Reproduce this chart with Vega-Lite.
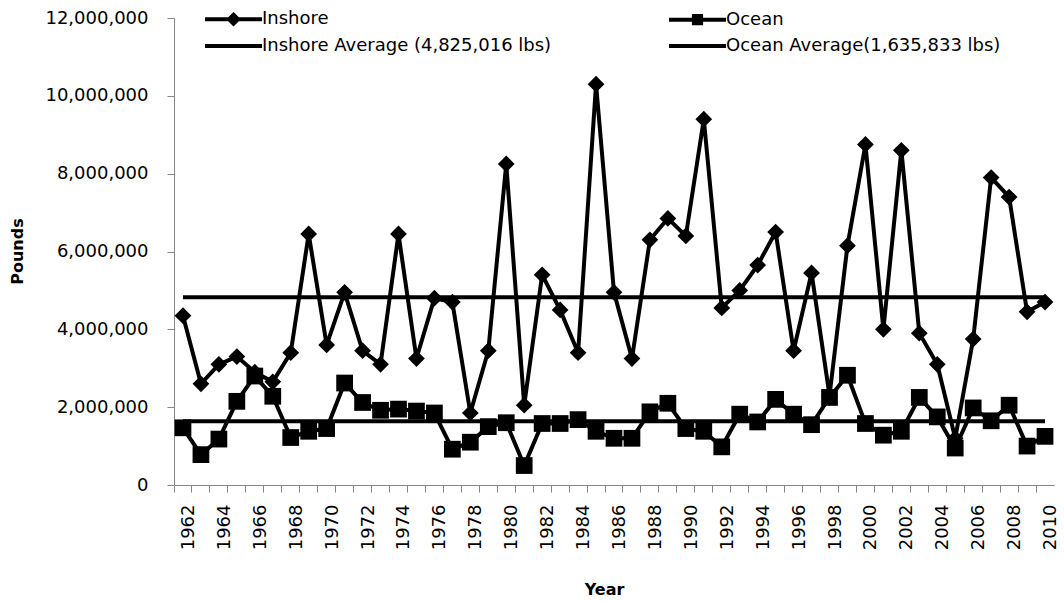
{
  "$schema": "https://vega.github.io/schema/vega-lite/v6.json",
  "autosize": "none",
  "width": 880,
  "height": 467,
  "padding": {"left": 174, "top": 18, "right": 10, "bottom": 116},
  "background": "white",
  "config": {"view": {"stroke": null}},
  "datasets": {
    "catch": [
      {"year": 1962, "series": "Inshore", "pounds": 4350000},
      {"year": 1963, "series": "Inshore", "pounds": 2600000},
      {"year": 1964, "series": "Inshore", "pounds": 3100000},
      {"year": 1965, "series": "Inshore", "pounds": 3300000},
      {"year": 1966, "series": "Inshore", "pounds": 2900000},
      {"year": 1967, "series": "Inshore", "pounds": 2650000},
      {"year": 1968, "series": "Inshore", "pounds": 3400000},
      {"year": 1969, "series": "Inshore", "pounds": 6450000},
      {"year": 1970, "series": "Inshore", "pounds": 3600000},
      {"year": 1971, "series": "Inshore", "pounds": 4950000},
      {"year": 1972, "series": "Inshore", "pounds": 3450000},
      {"year": 1973, "series": "Inshore", "pounds": 3100000},
      {"year": 1974, "series": "Inshore", "pounds": 6450000},
      {"year": 1975, "series": "Inshore", "pounds": 3250000},
      {"year": 1976, "series": "Inshore", "pounds": 4800000},
      {"year": 1977, "series": "Inshore", "pounds": 4700000},
      {"year": 1978, "series": "Inshore", "pounds": 1850000},
      {"year": 1979, "series": "Inshore", "pounds": 3450000},
      {"year": 1980, "series": "Inshore", "pounds": 8250000},
      {"year": 1981, "series": "Inshore", "pounds": 2050000},
      {"year": 1982, "series": "Inshore", "pounds": 5400000},
      {"year": 1983, "series": "Inshore", "pounds": 4500000},
      {"year": 1984, "series": "Inshore", "pounds": 3400000},
      {"year": 1985, "series": "Inshore", "pounds": 10300000},
      {"year": 1986, "series": "Inshore", "pounds": 4950000},
      {"year": 1987, "series": "Inshore", "pounds": 3250000},
      {"year": 1988, "series": "Inshore", "pounds": 6300000},
      {"year": 1989, "series": "Inshore", "pounds": 6850000},
      {"year": 1990, "series": "Inshore", "pounds": 6400000},
      {"year": 1991, "series": "Inshore", "pounds": 9400000},
      {"year": 1992, "series": "Inshore", "pounds": 4550000},
      {"year": 1993, "series": "Inshore", "pounds": 5000000},
      {"year": 1994, "series": "Inshore", "pounds": 5650000},
      {"year": 1995, "series": "Inshore", "pounds": 6500000},
      {"year": 1996, "series": "Inshore", "pounds": 3450000},
      {"year": 1997, "series": "Inshore", "pounds": 5450000},
      {"year": 1998, "series": "Inshore", "pounds": 2300000},
      {"year": 1999, "series": "Inshore", "pounds": 6150000},
      {"year": 2000, "series": "Inshore", "pounds": 8750000},
      {"year": 2001, "series": "Inshore", "pounds": 4000000},
      {"year": 2002, "series": "Inshore", "pounds": 8600000},
      {"year": 2003, "series": "Inshore", "pounds": 3900000},
      {"year": 2004, "series": "Inshore", "pounds": 3100000},
      {"year": 2005, "series": "Inshore", "pounds": 1200000},
      {"year": 2006, "series": "Inshore", "pounds": 3750000},
      {"year": 2007, "series": "Inshore", "pounds": 7900000},
      {"year": 2008, "series": "Inshore", "pounds": 7400000},
      {"year": 2009, "series": "Inshore", "pounds": 4450000},
      {"year": 2010, "series": "Inshore", "pounds": 4700000},
      {"year": 1962, "series": "Ocean", "pounds": 1470000},
      {"year": 1963, "series": "Ocean", "pounds": 780000},
      {"year": 1964, "series": "Ocean", "pounds": 1180000},
      {"year": 1965, "series": "Ocean", "pounds": 2150000},
      {"year": 1966, "series": "Ocean", "pounds": 2800000},
      {"year": 1967, "series": "Ocean", "pounds": 2280000},
      {"year": 1968, "series": "Ocean", "pounds": 1220000},
      {"year": 1969, "series": "Ocean", "pounds": 1380000},
      {"year": 1970, "series": "Ocean", "pounds": 1450000},
      {"year": 1971, "series": "Ocean", "pounds": 2620000},
      {"year": 1972, "series": "Ocean", "pounds": 2120000},
      {"year": 1973, "series": "Ocean", "pounds": 1920000},
      {"year": 1974, "series": "Ocean", "pounds": 1950000},
      {"year": 1975, "series": "Ocean", "pounds": 1900000},
      {"year": 1976, "series": "Ocean", "pounds": 1850000},
      {"year": 1977, "series": "Ocean", "pounds": 920000},
      {"year": 1978, "series": "Ocean", "pounds": 1100000},
      {"year": 1979, "series": "Ocean", "pounds": 1500000},
      {"year": 1980, "series": "Ocean", "pounds": 1600000},
      {"year": 1981, "series": "Ocean", "pounds": 500000},
      {"year": 1982, "series": "Ocean", "pounds": 1580000},
      {"year": 1983, "series": "Ocean", "pounds": 1580000},
      {"year": 1984, "series": "Ocean", "pounds": 1680000},
      {"year": 1985, "series": "Ocean", "pounds": 1380000},
      {"year": 1986, "series": "Ocean", "pounds": 1200000},
      {"year": 1987, "series": "Ocean", "pounds": 1200000},
      {"year": 1988, "series": "Ocean", "pounds": 1880000},
      {"year": 1989, "series": "Ocean", "pounds": 2100000},
      {"year": 1990, "series": "Ocean", "pounds": 1450000},
      {"year": 1991, "series": "Ocean", "pounds": 1380000},
      {"year": 1992, "series": "Ocean", "pounds": 980000},
      {"year": 1993, "series": "Ocean", "pounds": 1820000},
      {"year": 1994, "series": "Ocean", "pounds": 1620000},
      {"year": 1995, "series": "Ocean", "pounds": 2200000},
      {"year": 1996, "series": "Ocean", "pounds": 1820000},
      {"year": 1997, "series": "Ocean", "pounds": 1550000},
      {"year": 1998, "series": "Ocean", "pounds": 2250000},
      {"year": 1999, "series": "Ocean", "pounds": 2820000},
      {"year": 2000, "series": "Ocean", "pounds": 1580000},
      {"year": 2001, "series": "Ocean", "pounds": 1280000},
      {"year": 2002, "series": "Ocean", "pounds": 1380000},
      {"year": 2003, "series": "Ocean", "pounds": 2250000},
      {"year": 2004, "series": "Ocean", "pounds": 1750000},
      {"year": 2005, "series": "Ocean", "pounds": 950000},
      {"year": 2006, "series": "Ocean", "pounds": 1980000},
      {"year": 2007, "series": "Ocean", "pounds": 1650000},
      {"year": 2008, "series": "Ocean", "pounds": 2050000},
      {"year": 2009, "series": "Ocean", "pounds": 1000000},
      {"year": 2010, "series": "Ocean", "pounds": 1250000}
    ],
    "avg": [
      {"year": 1962, "series": "Inshore Average (4,825,016 lbs)", "pounds": 4825016},
      {"year": 2010, "series": "Inshore Average (4,825,016 lbs)", "pounds": 4825016},
      {"year": 1962, "series": "Ocean Average(1,635,833 lbs)", "pounds": 1635833},
      {"year": 2010, "series": "Ocean Average(1,635,833 lbs)", "pounds": 1635833}
    ]
  },
  "encoding": {
    "x": {
      "field": "year",
      "type": "ordinal",
      "scale": {"type": "band", "paddingInner": 0, "paddingOuter": 0},
      "axis": {
        "title": "Year",
        "titleFont": "DejaVu Sans",
        "titleFontWeight": "bold",
        "titleFontSize": 16,
        "titleColor": "black",
        "titleX": 430,
        "titleY": 104,
        "titleBaseline": "middle",
        "titleAlign": "center",
        "labelAngle": 270,
        "labelFont": "DejaVu Sans",
        "labelFontSize": 18,
        "labelColor": "black",
        "labelPadding": 12,
        "labelOverlap": false,
        "labelExpr": "datum.value % 2 == 0 ? datum.label : ''",
        "bandPosition": 0,
        "labelOffset": 6,
        "tickSize": 7,
        "tickColor": "#868686",
        "domainColor": "#868686",
        "grid": false
      }
    },
    "y": {
      "field": "pounds",
      "type": "quantitative",
      "scale": {"domain": [0, 12000000], "nice": false},
      "axis": {
        "title": "Pounds",
        "titleFont": "DejaVu Sans",
        "titleFontWeight": "bold",
        "titleFontSize": 16,
        "titleColor": "black",
        "titleX": -157,
        "titleY": 233,
        "titleAngle": 270,
        "titleBaseline": "middle",
        "titleAlign": "center",
        "values": [0, 2000000, 4000000, 6000000, 8000000, 10000000, 12000000],
        "format": ",d",
        "labelFont": "DejaVu Sans",
        "labelFontSize": 18,
        "labelColor": "black",
        "labelPadding": 19,
        "tickSize": 7,
        "tickColor": "#868686",
        "domainColor": "#868686",
        "grid": false
      }
    },
    "color": {
      "field": "series",
      "type": "nominal",
      "scale": {
        "domain": ["Inshore", "Inshore Average (4,825,016 lbs)", "Ocean", "Ocean Average(1,635,833 lbs)"],
        "range": ["black", "black", "black", "black"]
      },
      "legend": {
        "title": null,
        "orient": "none",
        "legendX": 28,
        "legendY": -8,
        "columns": 2,
        "columnPadding": 109,
        "rowPadding": 5,
        "padding": 0,
        "labelFont": "DejaVu Sans",
        "labelFontSize": 18,
        "labelColor": "black",
        "labelLimit": 0,
        "labelOffset": 42,
        "symbolSize": 144,
        "symbolStrokeWidth": 4,
        "symbolFillColor": "black",
        "symbolStrokeColor": "black",
        "symbolOpacity": 1,
        "encode": {
          "symbols": {
            "update": {
              "shape": {"signal": "datum.value === 'Inshore' ? 'M-1,0L8.5,0M3.75,-0.75L4.5,0L3.75,0.75L3,0Z' : (datum.value === 'Ocean' ? 'M-1,0L8.5,0M3.15,-0.6L4.35,-0.6L4.35,0.6L3.15,0.6Z' : 'M-1,0L8.5,0')"},
              "fill": {"value": "black"},
              "stroke": {"value": "black"},
              "strokeWidth": {"value": 4},
              "opacity": {"value": 1}
            }
          }
        }
      }
    }
  },
  "layer": [
    {
      "data": {"name": "avg"},
      "mark": {"type": "line", "strokeWidth": 4}
    },
    {
      "data": {"name": "catch"},
      "mark": {"type": "line", "strokeWidth": 4}
    },
    {
      "data": {"name": "catch"},
      "mark": {"type": "point", "filled": true, "opacity": 1, "size": 280},
      "encoding": {
        "shape": {
          "field": "series",
          "type": "nominal",
          "scale": {"domain": ["Inshore", "Ocean"], "range": ["diamond", "square"]},
          "legend": null
        }
      }
    }
  ]
}
